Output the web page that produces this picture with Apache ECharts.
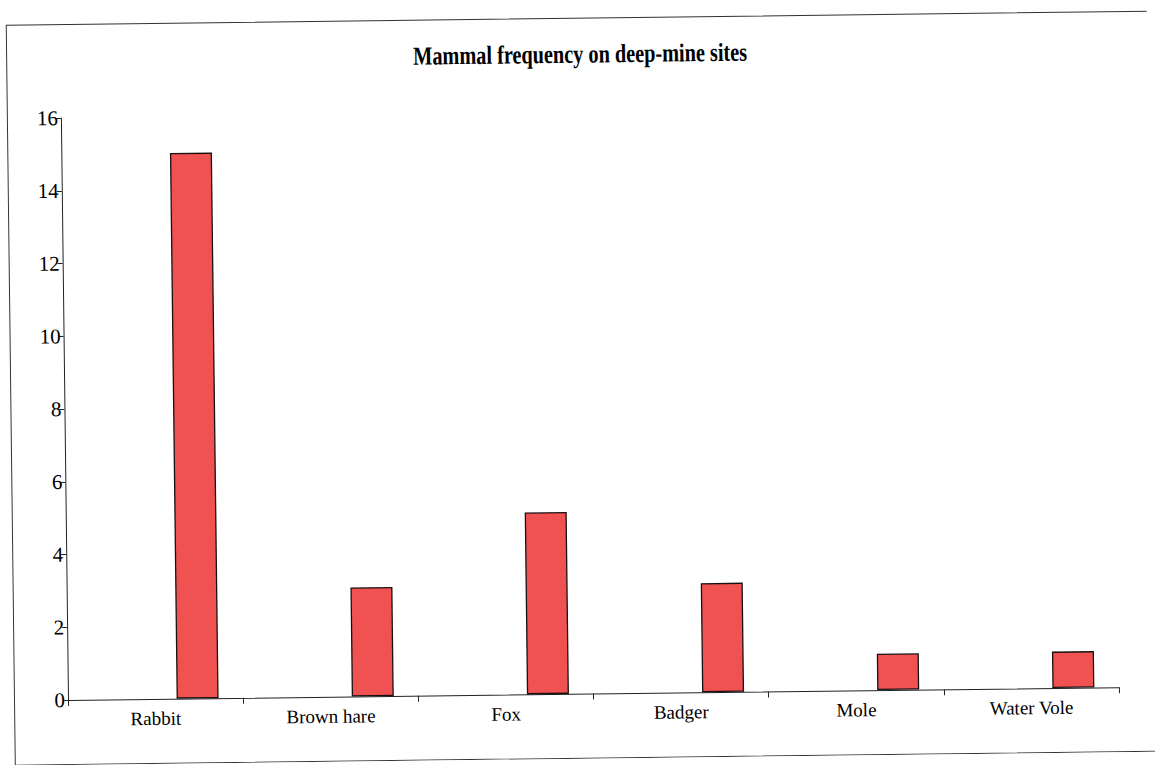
<!DOCTYPE html>
<html>
<head>
<meta charset="utf-8">
<script src="https://cdn.jsdelivr.net/npm/echarts@6/dist/echarts.min.js"></script>
<style>
  html, body { margin: 0; padding: 0; background: #ffffff; overflow: hidden; }
  #chart { width: 1155px; height: 765px; transform: rotate(-0.7deg); transform-origin: 68px 700px; }
</style>
</head>
<body>
<div id="chart"></div>
<script>
const titleText = 'Mammal frequency on deep-mine sites';
const categories = ['Rabbit', 'Brown hare', 'Fox', 'Badger', 'Mole', 'Water Vole'];
const frequency = [15, 3, 5, 3, 1, 1];
const yMin = 0, yMax = 16, yInterval = 2;

const chart = echarts.init(document.getElementById('chart'), null, { renderer: 'svg' });
const serif = 'Liberation Serif';
chart.setOption({
  animation: false,
  backgroundColor: '#ffffff',
  graphic: [
    { type: 'rect', left: 12, top: 22, shape: { width: 1153, height: 740 }, style: { fill: 'none', stroke: '#333', lineWidth: 1 }, silent: true },
    { type: 'text', x: 588, y: 60, scaleX: 0.78, originX: 0, originY: 0,
      style: { text: titleText, font: 'bold 26px "Liberation Serif"', fill: '#000', align: 'center', verticalAlign: 'middle' } }
  ],
  grid: { left: 68, right: 36, top: 118, bottom: 65, containLabel: false },
  xAxis: {
    type: 'category',
    data: categories,
    boundaryGap: true,
    axisLine: { lineStyle: { color: '#222', width: 1 } },
    axisTick: { show: true, length: 6, alignWithLabel: false, lineStyle: { color: '#222' } },
    axisLabel: { fontFamily: serif, fontSize: 19, color: '#000', margin: 10, interval: 0 },
    splitLine: { show: false }
  },
  yAxis: {
    type: 'value',
    min: yMin, max: yMax, interval: yInterval,
    axisLine: { show: true, lineStyle: { color: '#222', width: 1 } },
    axisTick: { show: true, length: 5, lineStyle: { color: '#222' } },
    axisLabel: { fontFamily: serif, fontSize: 21, color: '#000', margin: 3 },
    splitLine: { show: false }
  },
  series: [
    { type: 'bar', name: 'spacer', data: categories.map(() => null), barWidth: '48%', barGap: '0%', silent: true, itemStyle: { color: 'transparent' } },
    { type: 'bar', name: 'Frequency', data: frequency, barWidth: '24%', barGap: '0%',
      itemStyle: { color: '#f05252', borderColor: '#1a1010', borderWidth: 1.3 } }
  ]
});
</script>
</body>
</html>
